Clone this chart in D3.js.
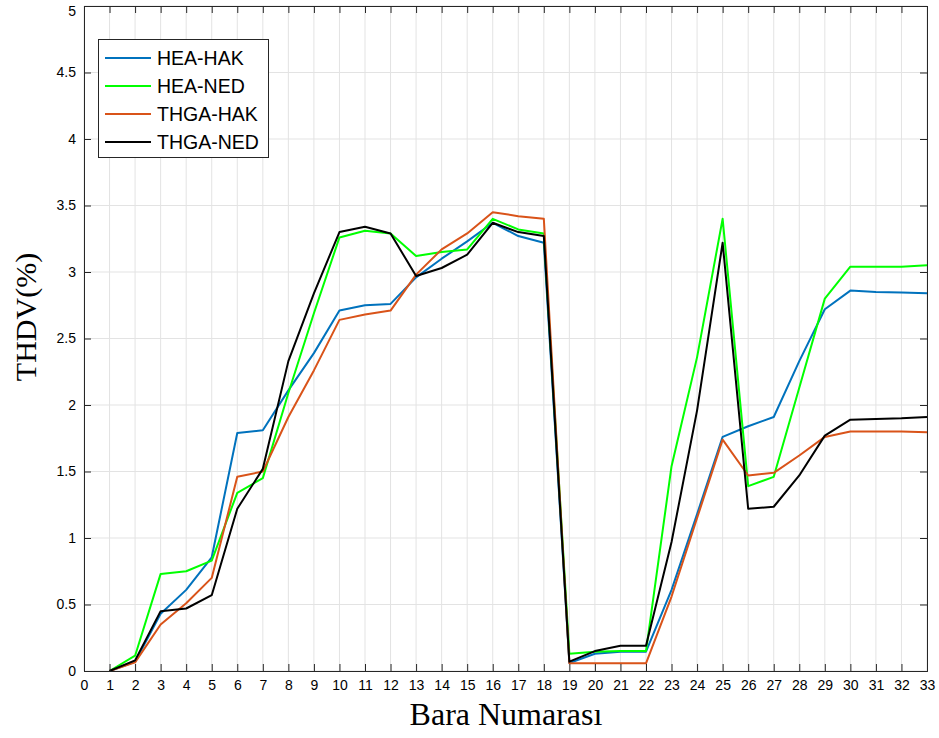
<!DOCTYPE html>
<html><head><meta charset="utf-8">
<script src="https://cdn.jsdelivr.net/npm/d3@7"></script>
<style>body{margin:0;background:#fff}</style>
</head><body><svg id="c" width="939" height="738"></svg>
<script>
const buses = d3.range(1, 34);
const heaHak = [0,0.07,0.43,0.61,0.855,1.79,1.81,2.11,2.39,2.71,2.75,2.76,2.96,3.10,3.23,3.37,3.27,3.22,0.06,0.13,0.145,0.145,0.61,1.18,1.76,1.84,1.91,2.33,2.72,2.86,2.85,2.845,2.84];
const heaNed = [0,0.115,0.73,0.75,0.83,1.34,1.45,2.09,2.69,3.26,3.31,3.29,3.12,3.15,3.17,3.40,3.32,3.29,0.13,0.145,0.15,0.15,1.54,2.36,3.40,1.39,1.46,2.13,2.80,3.04,3.04,3.04,3.05];
const thgaHak = [0,0.065,0.35,0.51,0.70,1.46,1.50,1.91,2.26,2.64,2.68,2.71,2.98,3.17,3.29,3.45,3.42,3.40,0.058,0.058,0.058,0.058,0.56,1.15,1.74,1.47,1.49,1.62,1.76,1.80,1.80,1.80,1.795];
const thgaNed = [0,0.08,0.45,0.47,0.57,1.22,1.52,2.33,2.84,3.30,3.34,3.29,2.97,3.03,3.13,3.37,3.30,3.27,0.07,0.15,0.19,0.19,0.97,1.96,3.22,1.22,1.235,1.47,1.77,1.89,1.895,1.90,1.91];
const seriesNames = ["HEA-HAK","HEA-NED","THGA-HAK","THGA-NED"];
const seriesColors = ["#0072BD","#00FF00","#D95319","#000000"];
const seriesData = [heaHak, heaNed, thgaHak, thgaNed];
const xTicks = d3.range(0, 34);
const yTicks = [0,0.5,1,1.5,2,2.5,3,3.5,4,4.5,5];

const svg = d3.select("#c");
const L=84, R=927, T=6, B=671;
const x = d3.scaleLinear().domain([0,33]).range([L,R]);
const y = d3.scaleLinear().domain([0,5]).range([B,T]);

// grid
svg.append("g").selectAll("line.v").data(xTicks).join("line")
  .attr("x1",d=>x(d)).attr("x2",d=>x(d)).attr("y1",T).attr("y2",B)
  .attr("stroke","#e3e3e3").attr("stroke-width",1);
svg.append("g").selectAll("line.h").data(yTicks).join("line")
  .attr("x1",L).attr("x2",R).attr("y1",d=>y(d)).attr("y2",d=>y(d))
  .attr("stroke","#e3e3e3").attr("stroke-width",1);

// lines
const line = d3.line().x((d,i)=>x(buses[i])).y(d=>y(d));
seriesData.forEach((s,k)=>{
  svg.append("path").datum(s).attr("d",line).attr("fill","none")
    .attr("stroke",seriesColors[k]).attr("stroke-width",2).attr("stroke-linejoin","round");
});

// axes
const ax = "#262626";
const gB = svg.append("g").attr("transform",`translate(0,${B})`)
  .call(d3.axisBottom(x).tickValues(xTicks).tickSize(-7).tickPadding(9).tickFormat(d3.format("d")));
const gT = svg.append("g").attr("transform",`translate(0,${T})`)
  .call(d3.axisTop(x).tickValues(xTicks).tickSize(-7).tickFormat(""));
const gL = svg.append("g").attr("transform",`translate(${L},0)`)
  .call(d3.axisLeft(y).tickValues(yTicks).tickSize(-7).tickPadding(8).tickFormat(d=>String(d)));
const gR = svg.append("g").attr("transform",`translate(${R},0)`)
  .call(d3.axisRight(y).tickValues(yTicks).tickSize(-7).tickFormat(""));
[gB,gT,gL,gR].forEach(g=>{
  g.select(".domain").attr("stroke",ax).attr("stroke-width",1);
  g.selectAll(".tick line").attr("stroke",ax);
  g.selectAll("text").attr("fill","#000").attr("font-family","Liberation Sans, Arial, sans-serif").attr("font-size",14);
});
// keep top label inside the picture
gL.selectAll(".tick text").filter(d=>d===5).attr("dy","0.7em");

// titles
svg.append("text").attr("x",506).attr("y",725).attr("text-anchor","middle")
  .attr("font-family","Liberation Serif, Times New Roman, serif").attr("font-size",32).text("Bara Numarası");
svg.append("text").attr("transform",`translate(36,317) rotate(-90)`).attr("text-anchor","middle")
  .attr("font-family","Liberation Serif, Times New Roman, serif").attr("font-size",30).text("THDV(%)");

// legend
const lg = svg.append("g");
lg.append("rect").attr("x",98.5).attr("y",39.5).attr("width",170).attr("height",118)
  .attr("fill","#fff").attr("stroke",ax).attr("stroke-width",1);
seriesNames.forEach((n,k)=>{
  const yy = 58 + k*28;
  lg.append("line").attr("x1",105).attr("x2",151).attr("y1",yy).attr("y2",yy)
    .attr("stroke",seriesColors[k]).attr("stroke-width",2);
  lg.append("text").attr("x",157).attr("y",yy+7).attr("font-family","Liberation Sans, Arial, sans-serif")
    .attr("font-size",19.5).text(n);
});
</script></body></html>
